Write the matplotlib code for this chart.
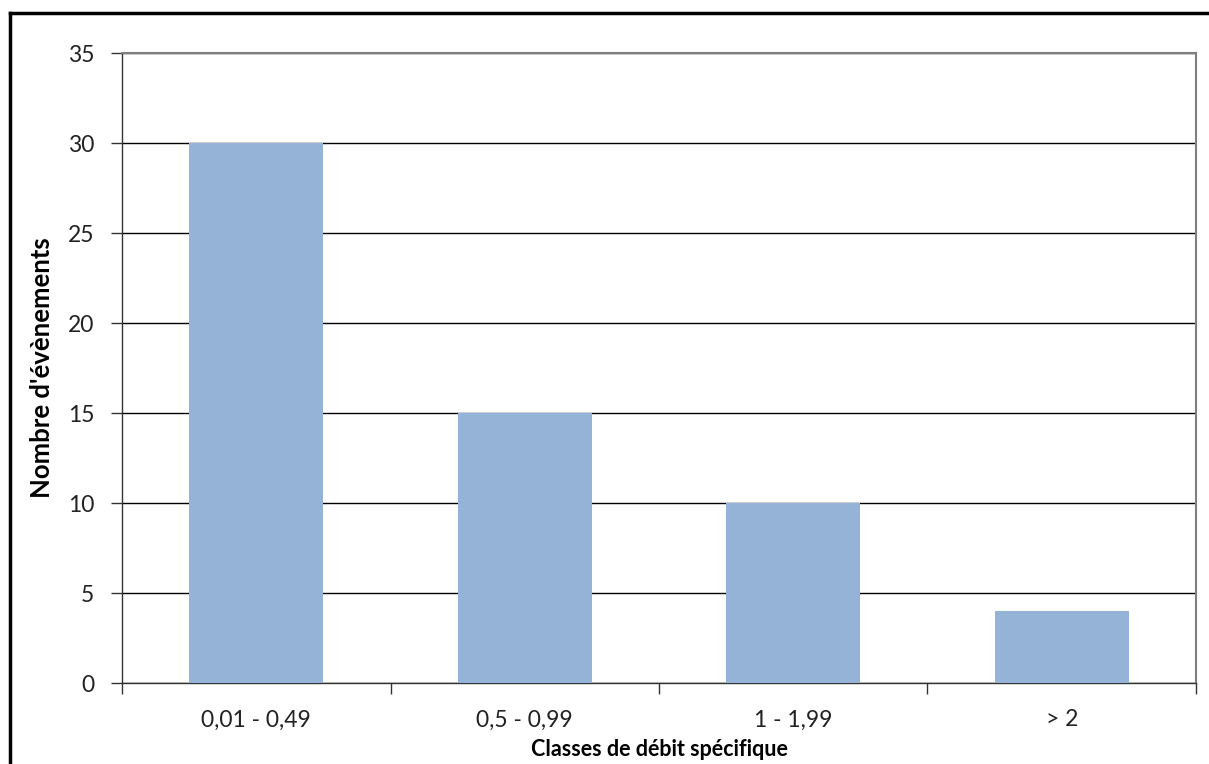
import matplotlib
matplotlib.use('Agg')
import matplotlib.pyplot as plt
from matplotlib.lines import Line2D
import numpy as np

# Data
categories = ['0,01 - 0,49', '0,5 - 0,99', '1 - 1,99', '> 2']
counts = [30, 15, 10, 4]
y_ticks = [0, 5, 10, 15, 20, 25, 30, 35]

plt.rcParams['font.family'] = ['Lato', 'DejaVu Sans']

W, H = 1209, 764
fig = plt.figure(figsize=(W / 100, H / 100), dpi=100)
ax = fig.add_axes([122 / W, 1 - 683 / H, (1196 - 122) / W, (683 - 53) / H])

x = np.arange(len(categories))
ax.bar(x, counts, width=0.5, color='#95B3D7', zorder=3)

ax.set_xlim(-0.5, len(categories) - 0.5)
ax.set_ylim(0, 35)

# horizontal gridlines
ax.set_yticks(y_ticks)
ax.yaxis.grid(True, color='black', linewidth=1, zorder=1)
ax.set_axisbelow(True)

# category labels in the middle, tick marks at the boundaries
ax.set_xticks(x)
ax.set_xticklabels(categories, fontsize=16.5, color='#222222')
ax.tick_params(axis='x', which='major', length=0, pad=19)
ax.set_xticks(np.arange(-0.5, len(categories)), minor=True)
ax.tick_params(axis='x', which='minor', length=8, width=1, color='#333333', direction='out')
ax.tick_params(axis='y', length=8, width=1, color='#333333', labelsize=16.5,
               labelcolor='#222222', pad=12)

for side in ['top', 'right']:
    ax.spines[side].set_color('#808080')
    ax.spines[side].set_linewidth(1.5)
for side in ['left', 'bottom']:
    ax.spines[side].set_color('#333333')
    ax.spines[side].set_linewidth(1)

ax.set_xlabel('Classes de débit spécifique', fontsize=15.5, fontweight='bold', labelpad=6)
ax.set_ylabel("Nombre d'évènements", fontsize=18.5, fontweight='bold', labelpad=10)

# frame of the chart area (left and top edges visible)
fig.add_artist(Line2D([10 / W, 10 / W], [0, 1 - 13 / H], color='black', linewidth=2.5,
                      transform=fig.transFigure))
fig.add_artist(Line2D([10 / W, 1], [1 - 13 / H, 1 - 13 / H], color='black', linewidth=2.5,
                      transform=fig.transFigure))

fig.savefig('out.png', dpi=100)
